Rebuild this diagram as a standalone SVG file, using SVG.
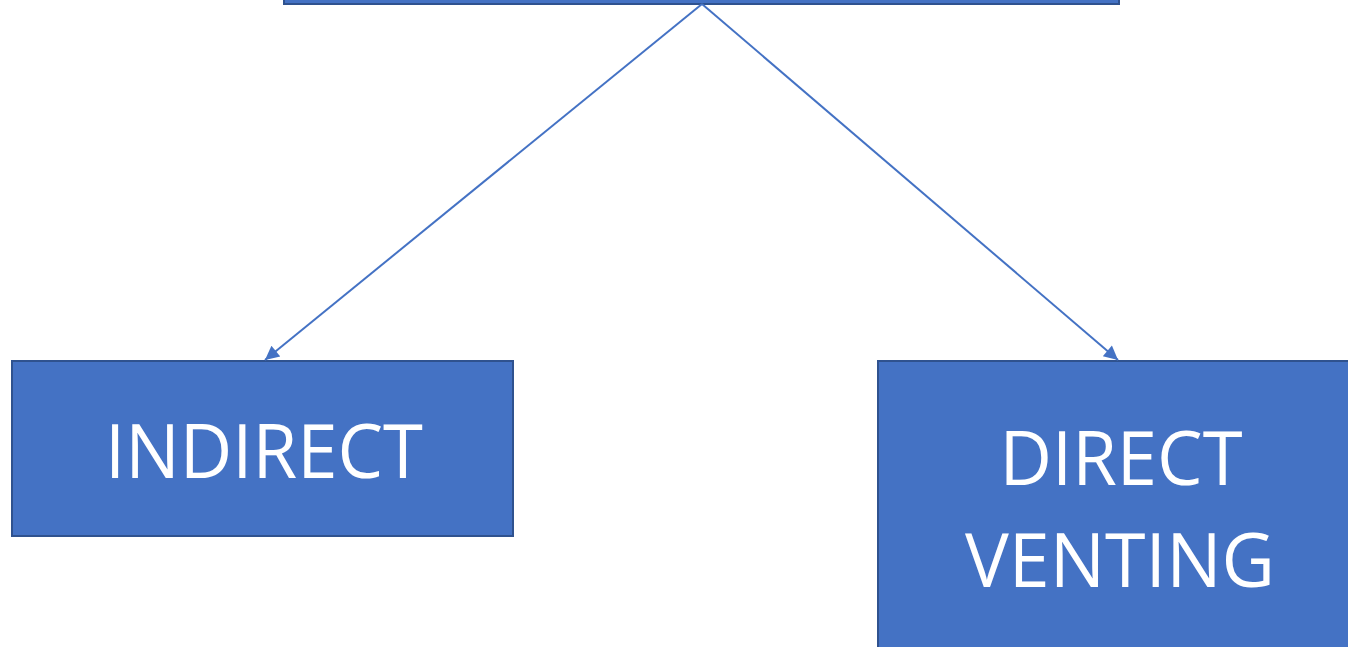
<svg xmlns="http://www.w3.org/2000/svg" width="1348" height="647" viewBox="0 0 1348 647">
<style>
.box{fill:#4472C4;stroke:#2F528F;stroke-width:2}
.lbl{fill:#FFFFFF;font-family:"Open Sans","Liberation Sans",sans-serif;font-size:75px;text-anchor:middle}
.conn{stroke:#4472C4;stroke-width:2;fill:none}
</style>
<defs>
<marker id="arr" viewBox="0 0 10 10" refX="10" refY="5" markerWidth="8" markerHeight="7" markerUnits="strokeWidth" orient="auto">
<path d="M0,0 L10,5 L0,10 z" fill="#4472C4"/>
</marker>
</defs>
<g id="top">
<rect class="box" x="284" y="-40" width="835" height="44"/>
</g>
<g id="indirect">
<rect class="box" x="12" y="361" width="501" height="175"/>
<text class="lbl" x="264" y="478" textLength="318" lengthAdjust="spacingAndGlyphs">INDIRECT</text>
</g>
<g id="direct-venting">
<rect class="box" x="878" y="361" width="484" height="300"/>
<text class="lbl" x="1121" y="485" textLength="243" lengthAdjust="spacingAndGlyphs">DIRECT</text>
<text class="lbl" x="1120" y="587" textLength="310" lengthAdjust="spacingAndGlyphs">VENTING</text>
</g>
<g id="connectors">
<line class="conn" x1="702" y1="4" x2="265" y2="360" marker-end="url(#arr)"/>
<line class="conn" x1="702" y1="4" x2="1118" y2="360" marker-end="url(#arr)"/>
</g>
</svg>
